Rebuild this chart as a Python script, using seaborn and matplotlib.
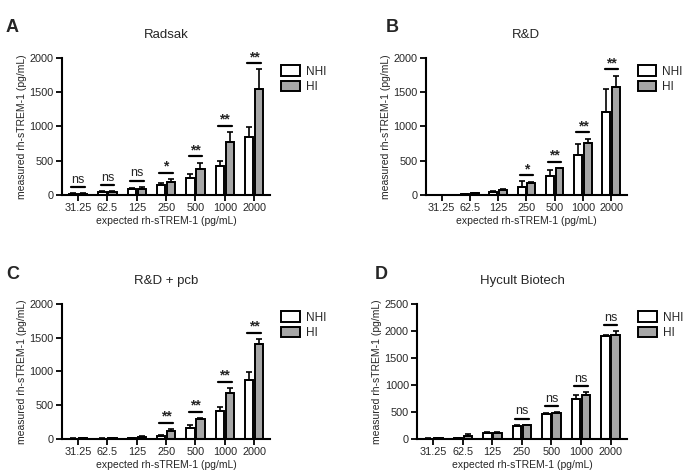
import pandas as pd
import numpy as np
import seaborn as sns
import matplotlib.pyplot as plt

# concentrations on the x axis (pg/mL)
conc = ["31.25", "62.5", "125", "250", "500", "1000", "2000"]

# A - Radsak
a_nhi = [15, 42, 85, 140, 245, 418, 850]
a_nhi_err = [7, 8, 10, 35, 55, 77, 135]
a_hi = [15, 42, 92, 190, 380, 765, 1540]
a_hi_err = [7, 8, 23, 45, 90, 155, 290]
a_sig = ["ns", "ns", "ns", "*", "**", "**", "**"]

# B - R&D
b_nhi = [2, 8, 40, 115, 272, 575, 1205]
b_nhi_err = [1, 3, 20, 80, 90, 160, 335]
b_hi = [3, 22, 75, 172, 385, 760, 1580]
b_hi_err = [1, 6, 12, 10, 10, 60, 160]
b_sig = ["", "", "", "*", "**", "**", "**"]

# C - R&D + pcb
c_nhi = [5, 5, 15, 42, 165, 420, 870]
c_nhi_err = [2, 2, 5, 12, 40, 55, 120]
c_hi = [8, 12, 22, 120, 300, 685, 1410]
c_hi_err = [3, 5, 25, 30, 12, 75, 65]
c_sig = ["", "", "", "**", "**", "**", "**"]

# D - Hycult Biotech
d_nhi = [5, 15, 115, 240, 455, 745, 1905]
d_nhi_err = [3, 5, 8, 12, 25, 65, 15]
d_hi = [12, 45, 118, 255, 478, 805, 1920]
d_hi_err = [4, 45, 8, 10, 15, 60, 70]
d_sig = ["", "", "", "ns", "ns", "ns", "ns"]

panels = [
    ("A", "Radsak", a_nhi, a_nhi_err, a_hi, a_hi_err, a_sig, 2000),
    ("B", "R&D", b_nhi, b_nhi_err, b_hi, b_hi_err, b_sig, 2000),
    ("C", "R&D + pcb", c_nhi, c_nhi_err, c_hi, c_hi_err, c_sig, 2000),
    ("D", "Hycult Biotech", d_nhi, d_nhi_err, d_hi, d_hi_err, d_sig, 2500),
]

sns.set_style("ticks")
plt.rcParams['font.family'] = ['Liberation Sans', 'DejaVu Sans']

fig = plt.figure(figsize=(6.85, 4.74), dpi=100)
# axes boxes in figure fraction
boxes = [
    [0.0905, 0.589, 0.304, 0.289],
    [0.622, 0.589, 0.293, 0.289],
    [0.0905, 0.074, 0.304, 0.285],
    [0.609, 0.074, 0.306, 0.285],
]
palette = {"NHI": "white", "HI": "#a6a6a6"}

for (letter, title, nhi, nhi_err, hi, hi_err, sig, ymax), box in zip(panels, boxes):
    ax = fig.add_axes(box)
    df = pd.DataFrame({
        "conc": conc * 2,
        "group": ["NHI"] * len(conc) + ["HI"] * len(conc),
        "value": nhi + hi,
    })
    sns.barplot(data=df, x="conc", y="value", hue="group", order=conc,
                hue_order=["NHI", "HI"], palette=palette, errorbar=None,
                width=0.68, gap=0.18, edgecolor="black", linewidth=1.4, ax=ax)

    # upward error bars
    for cont, vals, errs in zip(ax.containers, [nhi, hi], [nhi_err, hi_err]):
        xs = [p.get_x() + p.get_width() / 2 for p in cont.patches]
        ax.errorbar(xs, vals, yerr=[np.zeros(len(errs)), errs], fmt="none",
                    ecolor="black", elinewidth=1.2, capsize=2.5, capthick=1.2, zorder=1)

    # significance markers
    c0 = ax.containers[0].patches
    c1 = ax.containers[1].patches
    for i, s in enumerate(sig):
        if not s:
            continue
        top = max(nhi[i] + nhi_err[i], hi[i] + hi_err[i]) + 0.045 * ymax
        x0 = c0[i].get_x() + c0[i].get_width() / 2 - 0.06
        x1 = c1[i].get_x() + c1[i].get_width() / 2 + 0.06
        ax.plot([x0, x1], [top, top], color="black", lw=1.6)
        if s == "ns":
            ax.text((x0 + x1) / 2, top + 0.01 * ymax, s, ha="center", va="bottom", fontsize=9)
        else:
            ax.text((x0 + x1) / 2, top - 0.005 * ymax, s, ha="center", va="bottom",
                    fontsize=10, fontweight="bold")

    ax.set_ylim(0, ymax)
    ax.set_yticks(np.arange(0, ymax + 1, 500))
    ax.set_xlim(-0.55, len(conc) - 0.45)
    ax.set_title(title, fontsize=9.5, pad=14)
    ax.set_xlabel("expected rh-sTREM-1 (pg/mL)", fontsize=7.5, labelpad=2)
    ax.set_ylabel("measured rh-sTREM-1 (pg/mL)", fontsize=7.5, labelpad=2)
    ax.tick_params(axis="both", labelsize=7.8, width=1.3, length=4, color="black", pad=2)
    for sp in ["left", "bottom"]:
        ax.spines[sp].set_linewidth(1.5)
        ax.spines[sp].set_color("black")
    sns.despine(ax=ax)

    leg = ax.legend(loc="upper left", bbox_to_anchor=(1.03, 0.98), frameon=False,
                    fontsize=8.5, handlelength=1.6, handleheight=1.0,
                    handletextpad=0.5, labelspacing=0.25, borderaxespad=0)
    for h in leg.legend_handles:
        h.set_edgecolor("black")
        h.set_linewidth(1.4)

    ax.text(-0.27 if letter in "AC" else -0.2, 1.28, letter, transform=ax.transAxes,
            fontsize=13, fontweight="bold", ha="left", va="top")

fig.savefig("out.png", dpi=100)
